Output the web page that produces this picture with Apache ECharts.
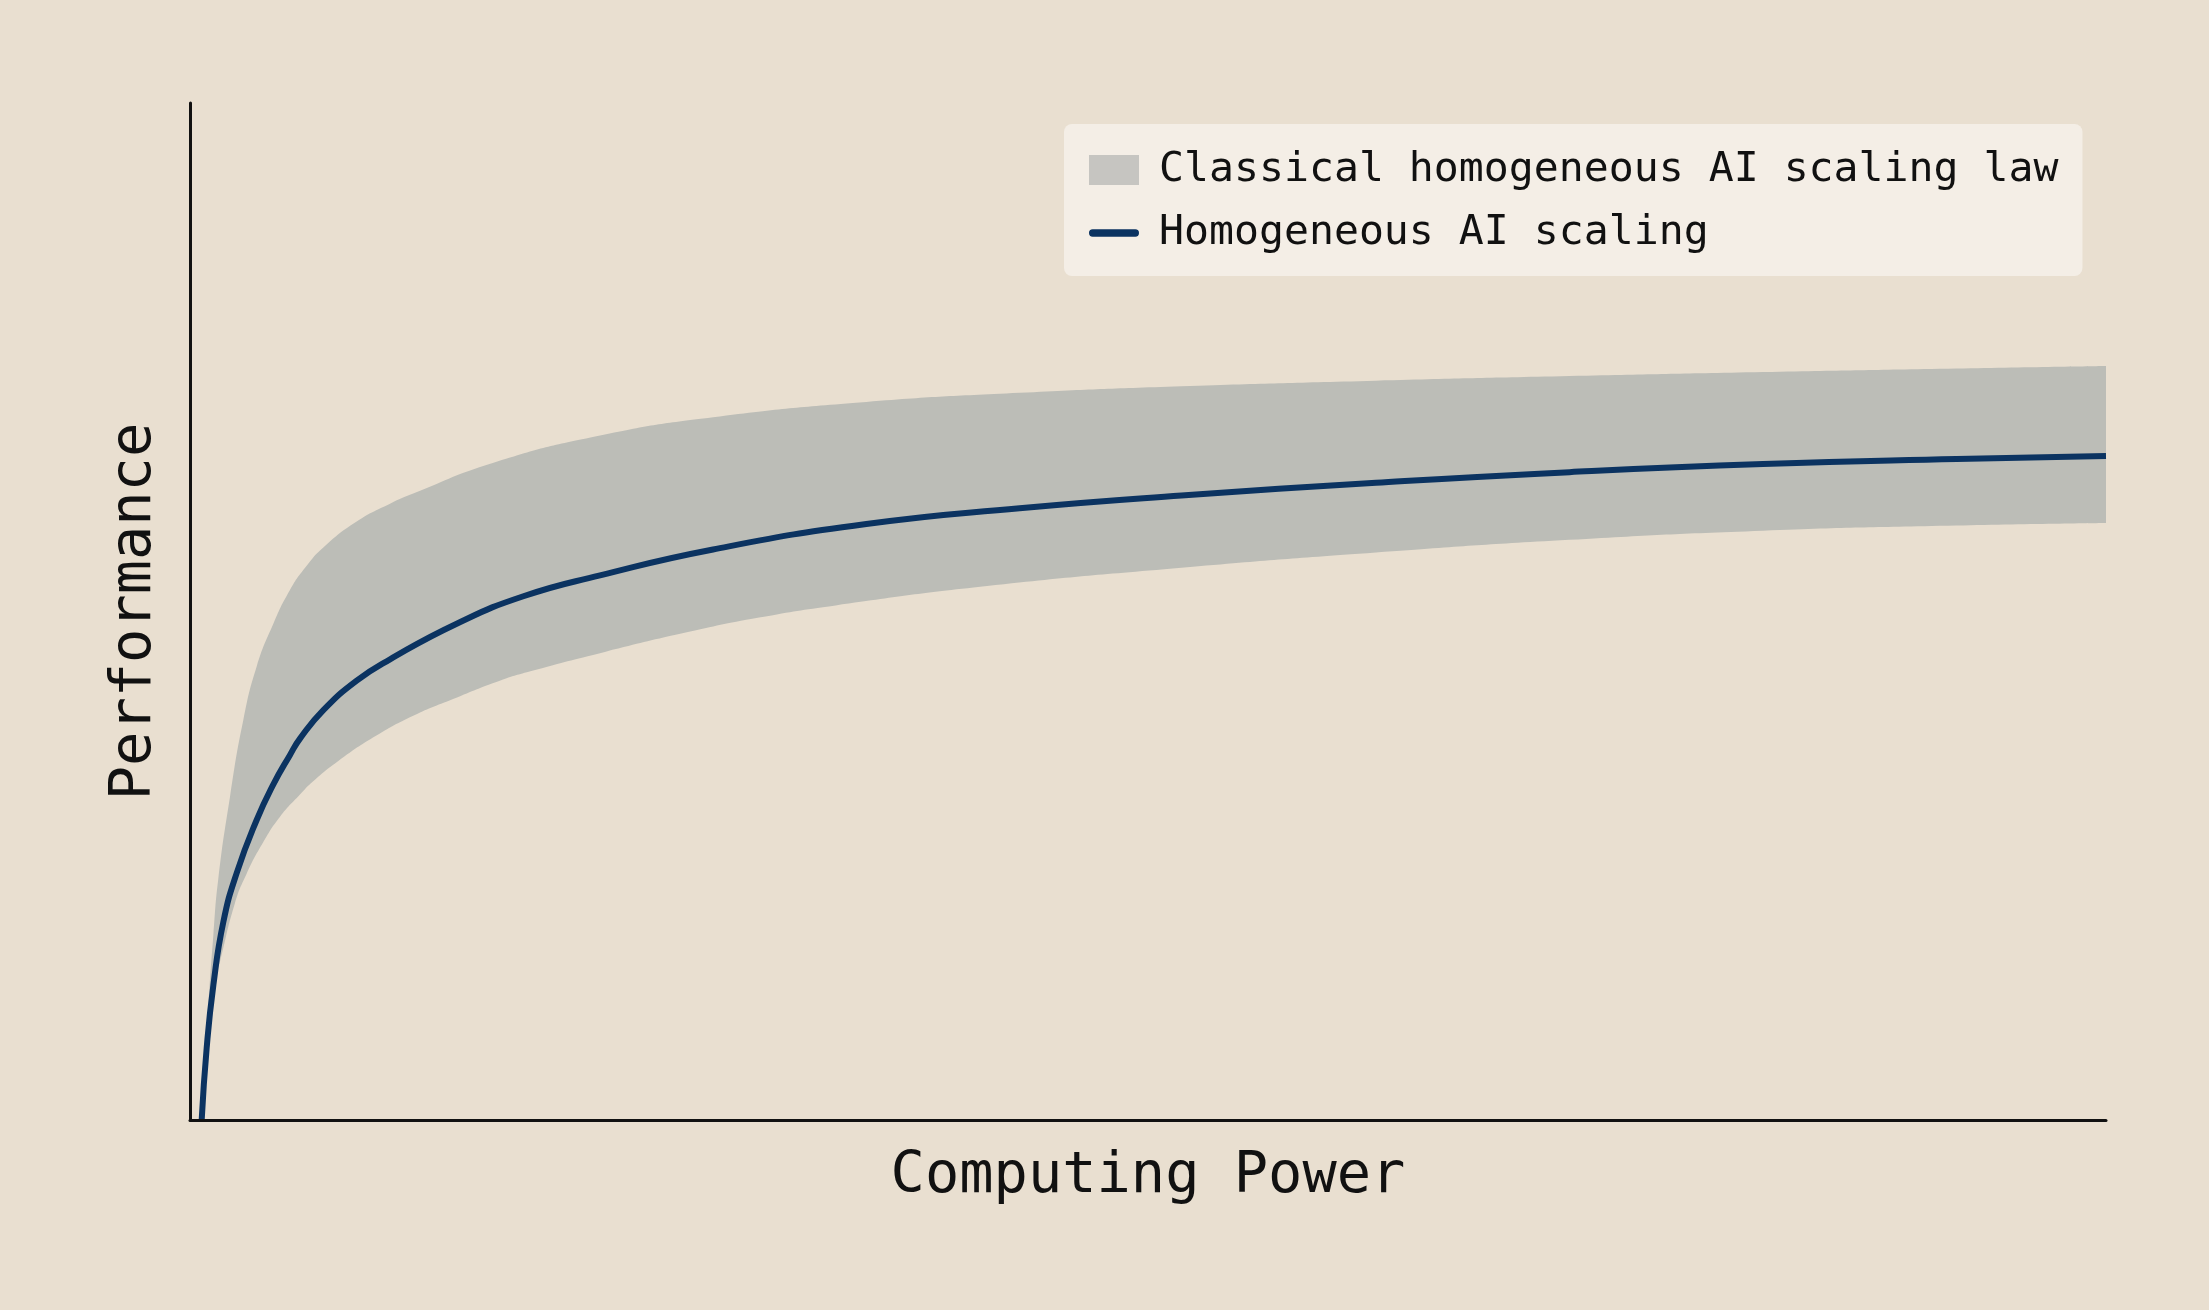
<!DOCTYPE html>
<html>
<head>
<meta charset="utf-8">
<script src="https://cdn.jsdelivr.net/npm/echarts@6/dist/echarts.min.js"></script>
<style>
  html, body { margin: 0; padding: 0; background: #e9dfd0; }
  #chart { width: 2209px; height: 1310px; }
</style>
</head>
<body>
<div id="chart"></div>
<script>
// values, x and y both on a 0..100 scale
const lineX = [0.61, 0.87, 1.22, 1.74, 2.44, 3.48, 4.35, 5.22, 5.74, 6.96, 8.7, 10.44, 13.92, 17.4, 21.4, 27.3, 35.3, 43.3, 51.75, 61.9, 72.0, 82.1, 92.2, 100];
const lineY = [0, 7.08, 13.27, 19.47, 24.3, 29.5, 33.0, 35.9, 37.5, 40.3, 43.2, 45.3, 48.8, 51.5, 53.55, 56.1, 58.6, 60.15, 61.4, 62.65, 63.7, 64.5, 65.0, 65.3];

const upperX = [0.61, 0.95, 1.22, 1.47, 2.09, 2.78, 3.48, 4.35, 5.21, 6.09, 6.96, 8.7, 10.44, 11.65, 15.8, 21.4, 27.3, 35.3, 43.3, 51.75, 61.9, 72.0, 82.1, 92.2, 100];
const upperY = [0, 11, 18.2, 23.6, 31.8, 39.3, 44.6, 48.8, 52.1, 54.5, 56.3, 58.85, 60.6, 61.6, 64.6, 67.3, 69.1, 70.6, 71.5, 72.15, 72.7, 73.15, 73.55, 73.9, 74.15];

const lowerX = [0.61, 0.95, 1.2, 1.57, 2.34, 2.95, 3.82, 4.69, 5.74, 6.43, 7.74, 9.73, 11.65, 13.73, 16.17, 17.72, 21.7, 25.7, 29.7, 33.7, 41.6, 51.75, 61.9, 72.0, 82.1, 92.2, 100];
const lowerY = [0, 9.5, 12.8, 15.6, 21.3, 24.2, 27.3, 29.8, 32.0, 33.3, 35.3, 37.8, 39.75, 41.4, 43.2, 44.1, 46.05, 47.85, 49.4, 50.6, 52.5, 54.3, 55.8, 57.05, 57.95, 58.45, 58.7];

const bandName = "Classical homogeneous AI scaling law";
const lineName = "Homogeneous AI scaling";

const BG = "#e9dfd0";
const BAND = "#bcbdb7";
const NAVY = "#0b3361";
const FONT = "DejaVu Sans Mono";

const pairs = (xs, ys) => xs.map((x, i) => [x, ys[i]]);

const chart = echarts.init(document.getElementById("chart"));

chart.setOption({
  backgroundColor: BG,
  animation: false,
  grid: { left: 190, right: 103, top: 103, bottom: 190 },
  legend: {
    orient: "vertical",
    left: 1064,
    top: 124,
    padding: [25, 24, 22, 25],
    itemGap: 21,
    itemWidth: 50,
    itemHeight: 30,
    backgroundColor: "#f4eee6",
    borderRadius: 8,
    textStyle: { fontFamily: FONT, fontSize: 41.5, color: "#111", padding: [0, 0, 0, 15] },
    data: [
      { name: bandName, icon: "rect", itemStyle: { color: "#c6c5c1" } },
      { name: lineName, icon: "path://M4,0 L50,0 A4,4 0 0 1 50,8 L4,8 A4,4 0 0 1 4,0 Z", itemStyle: { color: NAVY } }
    ]
  },
  xAxis: {
    type: "value",
    min: 0,
    max: 100,
    z: 10,
    name: "Computing Power",
    nameLocation: "middle",
    nameGap: 29,
    nameTextStyle: { fontFamily: FONT, fontSize: 57, color: "#111" },
    axisLine: { show: true, lineStyle: { color: "#111", width: 3 } },
    axisTick: { show: false },
    axisLabel: { show: false },
    splitLine: { show: false }
  },
  yAxis: {
    type: "value",
    min: 0,
    max: 100,
    z: 10,
    name: "Performance",
    nameLocation: "middle",
    nameGap: 26,
    nameTextStyle: { fontFamily: FONT, fontSize: 57, color: "#111" },
    axisLine: { show: true, lineStyle: { color: "#111", width: 3 } },
    axisTick: { show: false },
    axisLabel: { show: false },
    splitLine: { show: false }
  },
  series: [
    {
      // top edge of the band, filled down to the axis
      name: bandName,
      type: "line",
      z: 1,
      data: pairs(upperX, upperY),
      smooth: 0.5,
      showSymbol: false,
      itemStyle: { color: "#c6c5c1" },
      lineStyle: { width: 0, color: BAND },
      areaStyle: { color: BAND, opacity: 1 }
    },
    {
      // bottom edge of the band, background fill hides the rest
      name: "lower",
      type: "line",
      z: 2,
      data: pairs(lowerX, lowerY),
      smooth: 0.5,
      showSymbol: false,
      lineStyle: { width: 0, color: BG },
      areaStyle: { color: BG, opacity: 1 }
    },
    {
      name: lineName,
      type: "line",
      z: 3,
      data: pairs(lineX, lineY),
      smooth: 0.5,
      showSymbol: false,
      itemStyle: { color: NAVY },
      lineStyle: { width: 6, color: NAVY }
    }
  ]
});
</script>
</body>
</html>
